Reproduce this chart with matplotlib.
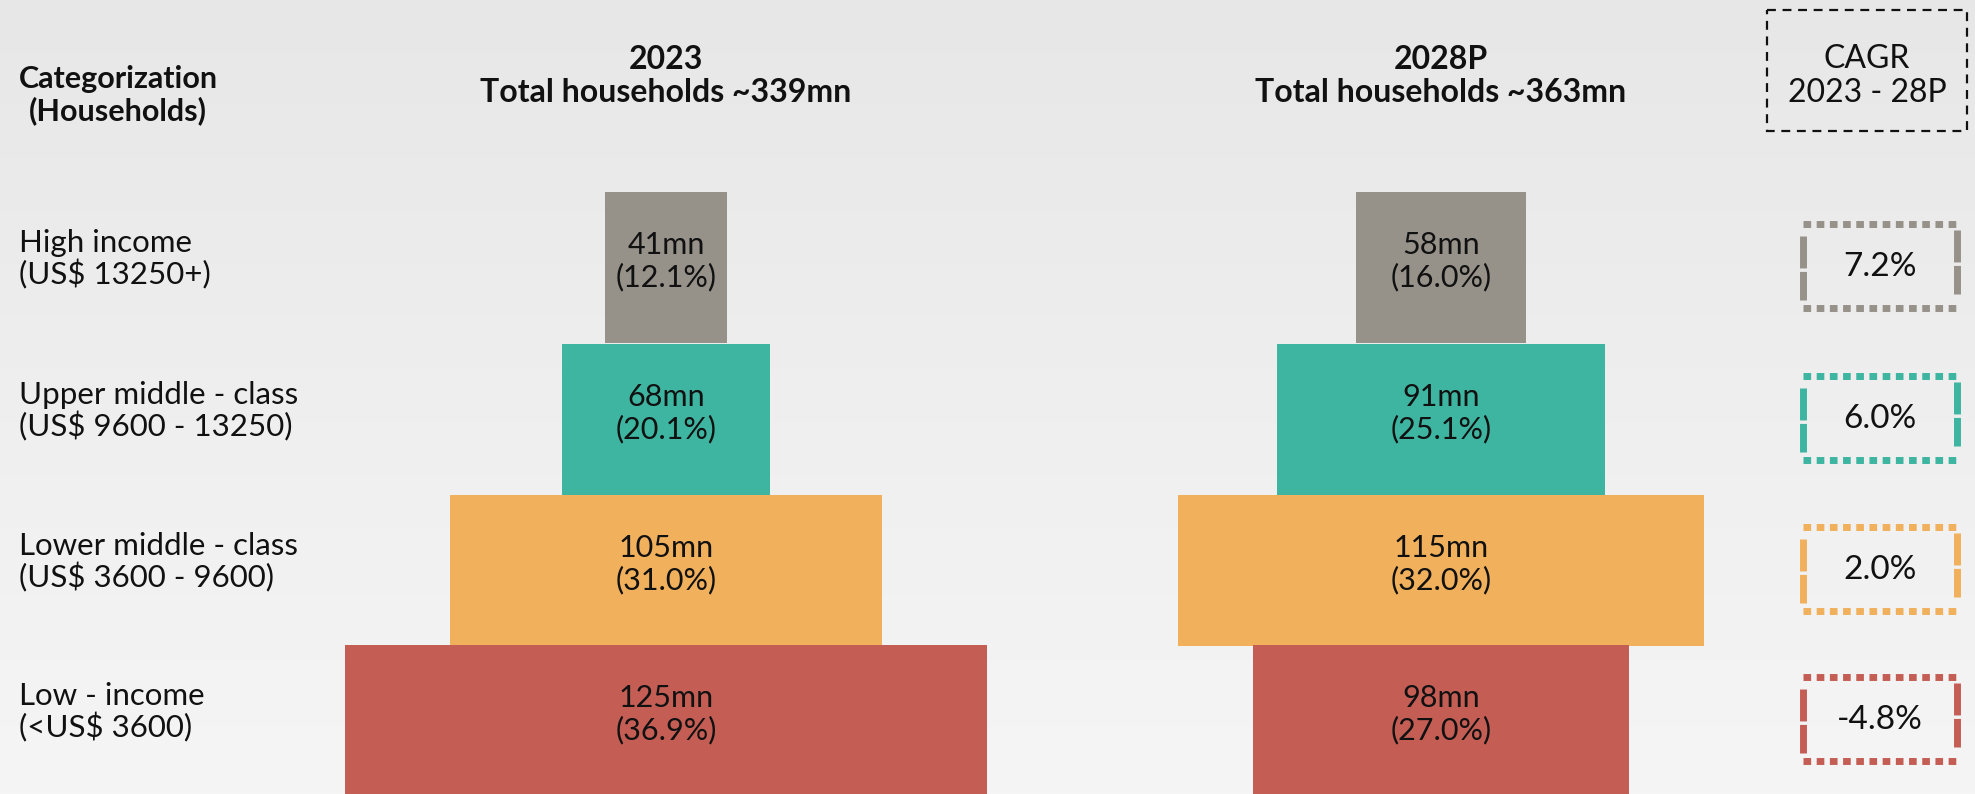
import numpy as np
import matplotlib
matplotlib.use("Agg")
import matplotlib.pyplot as plt
from matplotlib.patches import Rectangle

plt.rcParams['font.family'] = ['Lato', 'DejaVu Sans']

# household income pyramid, values in million households
categories = ["High income\n(US$ 13250+)",
              "Upper middle - class\n(US$ 9600 - 13250)",
              "Lower middle - class\n(US$ 3600 - 9600)",
              "Low - income\n(<US$ 3600)"]
years = ["2023", "2028P"]
totals = [339, 363]
hh_2023 = [41, 68, 105, 125]
share_2023 = [12.1, 20.1, 31.0, 36.9]
hh_2028 = [58, 91, 115, 98]
share_2028 = [16.0, 25.1, 32.0, 27.0]
cagr = [7.2, 6.0, 2.0, -4.8]

colors = ["#96928a", "#3db5a0", "#f0b05c", "#c45e55"]

W, H = 1975, 794
fig = plt.figure(figsize=(W / 100, H / 100), dpi=100)
ax = fig.add_axes([0, 0, 1, 1])
ax.set_xlim(0, W)
ax.set_ylim(H, 0)
ax.axis("off")

# soft grey backdrop
grad = np.linspace(0, 1, 256).reshape(-1, 1)
bg = matplotlib.colors.LinearSegmentedColormap.from_list(
    "bg", ["#e7e7e7", "#ececec", "#f1f1f2", "#f5f5f6"])
ax.imshow(grad, cmap=bg, extent=[0, W, H, 0], aspect="auto", zorder=0)

row_y = np.array([267, 419, 570, 720])
row_h = 151
centers = [666, 1441]


def bar_width(v):
    # wider bars for bigger segments, exponential stretch
    return 54.0 * np.exp(0.0198 * np.asarray(v, dtype=float))


for cx, vals, shares in zip(centers, [hh_2023, hh_2028], [share_2023, share_2028]):
    w = bar_width(vals)
    ax.barh(row_y, w, left=cx - w / 2, height=row_h, color=colors, zorder=2)
    for y, v, s in zip(row_y, vals, shares):
        ax.text(cx, y - 6, f"{v}mn\n({s:.1f}%)", ha="center", va="center",
                fontsize=22, linespacing=1.15, color="#111111", zorder=3)

# column headers
ax.text(118, 95, "Categorization\n(Households)", ha="center", va="center",
        fontsize=22, fontweight="bold", linespacing=1.15, color="#111111")
for cx, yr, tot in zip(centers, years, totals):
    ax.text(cx, 76, f"{yr}\nTotal households ~{tot}mn", ha="center", va="center",
            fontsize=23, fontweight="bold", linespacing=1.2, color="#111111")

# row labels
for y, lab in zip(row_y, categories):
    ax.text(19, y - 8, lab, ha="left", va="center", fontsize=22.5,
            linespacing=1.08, color="#111111")

# CAGR header box
ax.add_patch(Rectangle((1767, 10), 200, 121, fill=False, ec="#111111",
                       lw=1.6, ls=(0, (4, 3)), zorder=3))
ax.text(1867, 76, "CAGR\n2023 - 28P", ha="center", va="center",
        fontsize=23, linespacing=1.2, color="#111111")

# CAGR value boxes: dotted top/bottom, dashed sides
bx0, bx1 = 1803, 1957
for y, c, col in zip(row_y, cagr, colors):
    y0, y1 = y - 43, y + 41
    ax.plot([bx0, bx1], [y0, y0], color=col, lw=5, ls=(0, (1.1, 0.8)), zorder=3)
    ax.plot([bx0, bx1], [y1, y1], color=col, lw=5, ls=(0, (1.1, 0.8)), zorder=3)
    ax.plot([bx0, bx0], [y0 + 12, y1 - 8], color=col, lw=5, ls=(0, (4.6, 0.5)), zorder=3)
    ax.plot([bx1, bx1], [y0 + 6, y1 - 14], color=col, lw=5, ls=(0, (4.6, 0.5)), zorder=3)
    ax.text((bx0 + bx1) / 2, y, f"{c:.1f}%", ha="center", va="center",
            fontsize=24, color="#111111", zorder=4)

fig.savefig("out.png", dpi=100)
